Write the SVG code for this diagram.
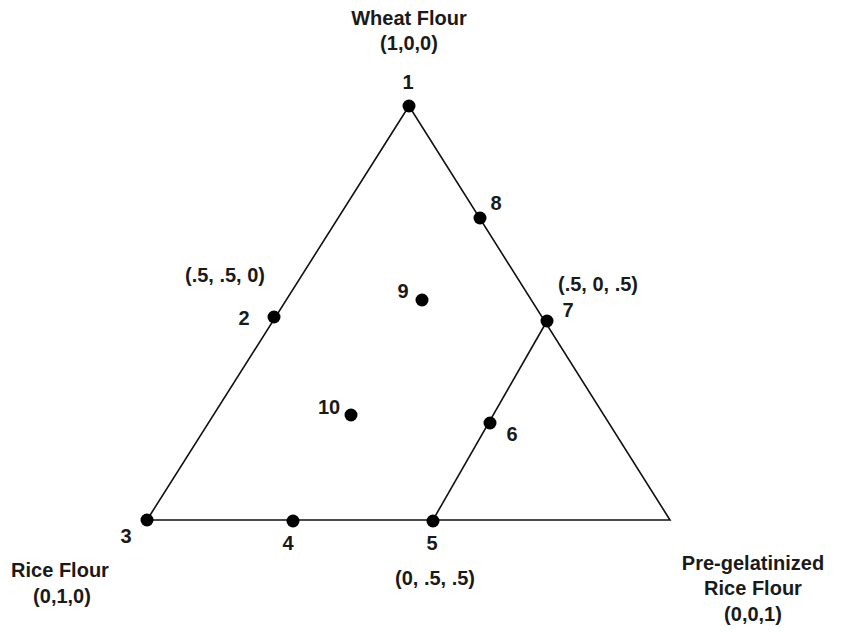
<svg xmlns="http://www.w3.org/2000/svg" width="851" height="632" viewBox="0 0 851 632">
<style>
text{font-family:"Liberation Sans",Arial,sans-serif;font-weight:bold;font-size:20px;fill:#1a1a1a}
.m{text-anchor:middle}
.e{stroke:#111;stroke-width:1.6;fill:none}
.d{fill:#000}
</style>
<rect width="851" height="632" fill="#fff"/>
<g id="connectors">
<polygon class="e" points="409,106 147,520 670,520"/>
<line class="e" x1="547" y1="321" x2="433" y2="520"/>
</g>
<g id="p1"><circle class="d" cx="409" cy="106" r="6.5"/><text class="m" x="408" y="89">1</text></g>
<g id="p2"><circle class="d" cx="274" cy="317" r="6.5"/><text class="m" x="244" y="325">2</text></g>
<g id="p3"><circle class="d" cx="147" cy="520" r="6.5"/><text class="m" x="126" y="543">3</text></g>
<g id="p4"><circle class="d" cx="293" cy="521" r="6.5"/><text class="m" x="288" y="550">4</text></g>
<g id="p5"><circle class="d" cx="433" cy="521" r="6.5"/><text class="m" x="432" y="550">5</text></g>
<g id="p6"><circle class="d" cx="490" cy="423" r="6.5"/><text class="m" x="512" y="441">6</text></g>
<g id="p7"><circle class="d" cx="547" cy="321" r="6.5"/><text class="m" x="568" y="317">7</text></g>
<g id="p8"><circle class="d" cx="480" cy="218" r="6.5"/><text class="m" x="496" y="210">8</text></g>
<g id="p9"><circle class="d" cx="422" cy="300" r="6.5"/><text class="m" x="403" y="298">9</text></g>
<g id="p10"><circle class="d" cx="351" cy="415" r="6.5"/><text class="m" x="329" y="414">10</text></g>
<g id="wheat"><text class="m" x="409" y="25">Wheat Flour</text><text class="m" x="409" y="50">(1,0,0)</text></g>
<g id="rice"><text class="m" x="60" y="577">Rice Flour</text><text class="m" x="62" y="603">(0,1,0)</text></g>
<g id="pregel"><text class="m" x="753" y="570">Pre-gelatinized</text><text class="m" x="753" y="595">Rice Flour</text><text class="m" x="753" y="621">(0,0,1)</text></g>
<g id="l2"><text class="m" x="225" y="282">(.5, .5, 0)</text></g>
<g id="l7"><text class="m" x="598" y="291">(.5, 0, .5)</text></g>
<g id="l5"><text class="m" x="435" y="585">(0, .5, .5)</text></g>
</svg>
